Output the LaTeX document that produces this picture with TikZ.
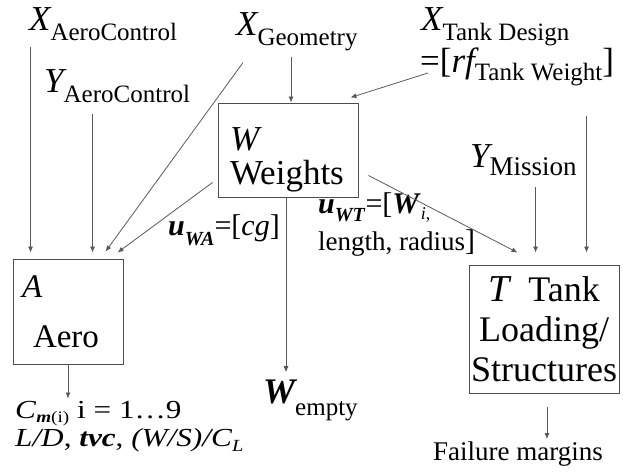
\documentclass[tikz,border=0pt]{standalone}
\usepackage{fontspec}
\setmainfont{Liberation Serif}
\usepackage{graphicx}
\usepackage{tikz}
\usetikzlibrary{arrows.meta, positioning}

\newcommand{\bigsym}[1]{{\fontsize{35pt}{38pt}\selectfont\itshape #1}}
\newcommand{\subtxt}[2][10pt]{\raisebox{-#1}{\fontsize{25pt}{28pt}\selectfont #2}}

\begin{document}
\begin{tikzpicture}[
  x=1pt, y=-1pt,
  box/.style={rectangle, draw=black!70, line width=0.9pt, inner ysep=0pt, font=\fontsize{35pt}{37pt}\selectfont},
  lbl/.style={anchor=base west, inner sep=0pt},
  arr/.style={-{Latex[length=6pt,width=5pt]}, draw=black!65, line width=0.8pt}
]
  \useasboundingbox (0,0) rectangle (623,472);

  \node[box, text width=116pt, inner xsep=12pt, minimum height=94pt, align=left] (weights) at (288,150) {\rule{0pt}{42pt}\textit{W}\\[-3pt]Weights};
  \node[box, text width=92pt, inner xsep=9pt, minimum height=105pt, align=left, font=\fontsize{33pt}{37pt}\selectfont] (aero) at (68,311.5) {\textit{A}\\[13pt]\hspace*{11pt}Aero};
  \node[box, text width=148pt, inner xsep=1pt, minimum height=128pt, align=center, font=\fontsize{36pt}{40pt}\selectfont] (tank) at (544,329) {{\fontsize{38pt}{40pt}\selectfont\textit{T}}\hspace{17pt}Tank\hspace*{18pt}\\Loading/\\Structures};

  \node[lbl] (xac) at (29,30) {\bigsym{X}\subtxt{AeroControl}};
  \node[lbl] (yac) at (44,92) {\bigsym{Y}\subtxt{AeroControl}};
  \node[lbl] (xgeo) at (236,35) {\bigsym{X}\subtxt{Geometry}};
  \node[lbl] (xtd) at (421,30) {\bigsym{X}\subtxt{Tank Design}};
  \node[lbl] (rftw) at (420,72) {{\fontsize{35pt}{38pt}\selectfont =[}\bigsym{rf}\subtxt[8pt]{Tank Weight}{\fontsize{35pt}{38pt}\selectfont ]}};
  \node[lbl] (ymis) at (470,167) {\bigsym{Y}\raisebox{-8pt}{\fontsize{27pt}{30pt}\selectfont Mission}};
  \node[lbl] (uwa) at (168,235) {\fontsize{30pt}{34pt}\selectfont\textbf{\textit{u}}\raisebox{-10pt}{\fontsize{20pt}{22pt}\selectfont\textbf{\textit{WA}}}=[\textit{cg}]};
  \node[lbl] (uwt) at (318,213) {\fontsize{30pt}{34pt}\selectfont\textbf{\textit{u}}\raisebox{-8pt}{\fontsize{20pt}{22pt}\selectfont\textbf{\textit{WT}}}=[\textbf{\textit{W}}\raisebox{-6pt}{\fontsize{18pt}{20pt}\selectfont\textit{i},}};
  \node[lbl] (uwtb) at (318,250) {\fontsize{27pt}{30pt}\selectfont length, radius{\fontsize{30pt}{34pt}\selectfont ]}};
  \node[lbl] (wempty) at (263,403) {{\fontsize{36pt}{38pt}\selectfont\bfseries\itshape W}\raisebox{-12pt}{\fontsize{25pt}{28pt}\selectfont empty}};
  \node[lbl] (cm) at (15,418) {\scalebox{1.2}[1]{\fontsize{26pt}{28pt}\selectfont\textit{C}\raisebox{-4pt}{\fontsize{16pt}{18pt}\selectfont\textbf{\textit{m}}(i)} i = 1…9}};
  \node[lbl] (cmb) at (15,446) {\scalebox{1.2}[1]{\fontsize{26pt}{28pt}\selectfont\textit{L/D}, \textbf{\textit{tvc}}, \textit{(W/S)/C}\raisebox{-5pt}{\fontsize{17pt}{18pt}\selectfont\textit{L}}}};
  \node[lbl] (fail) at (433,460) {\fontsize{27pt}{30pt}\selectfont Failure margins};

  \coordinate (aIn1) at ([xshift=18pt,yshift=6pt]aero.north west);
  \coordinate (aIn2) at ([xshift=80pt,yshift=6pt]aero.north west);
  \draw[arr, shorten <=7pt] (aIn1 |- xac.south) -- (aIn1);
  \draw[arr, shorten <=12pt] (aIn2 |- yac.south) -- (aIn2);
  \draw[arr] ([xshift=7pt,yshift=-12pt]xgeo.south west) -- ([xshift=93pt,yshift=7pt]aero.north west);
  \draw[arr] ([xshift=-5pt,yshift=15pt]weights.south west) -- ([xshift=105pt,yshift=6pt]aero.north west);

  \coordinate (wIn) at ([xshift=3pt]weights.north);
  \draw[arr, shorten <=6pt] (wIn |- xgeo.south) -- (wIn);
  \draw[arr] ([xshift=8pt,yshift=-1pt]rftw.base west) -- ([xshift=-8pt,yshift=5pt]weights.north east);

  \coordinate (tIn2) at ([xshift=67pt,yshift=12pt]tank.north west);
  \coordinate (tIn3) at ([xshift=118pt,yshift=12pt]tank.north west);
  \draw[arr] ([xshift=10pt,yshift=22pt]weights.south east) -- ([xshift=49pt,yshift=12pt]tank.north west);
  \draw[arr, shorten <=12pt] (tIn2 |- ymis.south) -- (tIn2);
  \draw[arr, shorten <=30pt] (tIn3 |- rftw.south) -- (tIn3);

  \coordinate (wOut) at ([xshift=-2pt]weights.south);
  \draw[arr, shorten >=7pt] (wOut) -- (wOut |- wempty.north);
  \draw[arr, shorten >=2pt] (aero.south) -- (aero.south |- cm.north);
  \coordinate (tOut) at ([xshift=3pt]tank.south);
  \draw[arr, shorten <=14pt, shorten >=2pt] (tOut) -- (tOut |- fail.north);
\end{tikzpicture}
\end{document}
